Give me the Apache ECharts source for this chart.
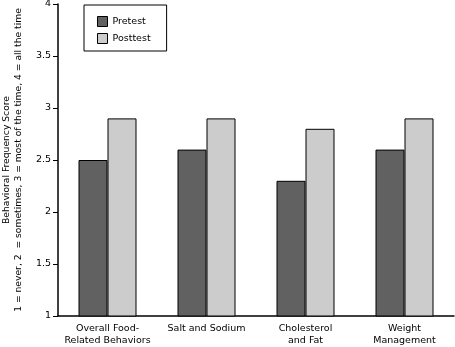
<!DOCTYPE html>
<html><head><meta charset="utf-8">
<script src="https://cdn.jsdelivr.net/npm/echarts@6/dist/echarts.min.js"></script>
<style>html,body{margin:0;padding:0;background:#fff}#c{width:455px;height:347px}</style>
</head><body><div id="c"></div>
<script>
const categories = ["Overall Food-\nRelated Behaviors", "Salt and Sodium", "Cholesterol\nand Fat", "Weight\nManagement"];
const pretest = [2.5, 2.6, 2.3, 2.6];
const posttest = [2.9, 2.9, 2.8, 2.9];
const seriesNames = ["Pretest", "Posttest"];
const yTitle = "Behavioral Frequency Score\n1 = never, 2  = sometimes, 3 = most of the time, 4 = all the time";
const FONT = "DejaVu Sans";
const chart = echarts.init(document.getElementById('c'), null, {renderer: 'canvas'});
chart.setOption({
  animation: false,
  textStyle: {fontFamily: FONT, color: '#000'},
  grid: {left: 58, right: 1, top: 4, bottom: 31, outerBoundsMode: 'none', containLabel: false},
  legend: {
    left: 84, top: 5, orient: 'vertical', icon: 'rect',
    borderColor: '#000', borderWidth: 1,
    padding: [11, 16, 7, 13],
    itemWidth: 10, itemHeight: 10, itemGap: 6,
    textStyle: {fontFamily: FONT, fontSize: 9.5, color: '#000'},
    itemStyle: {borderColor: '#000', borderWidth: 1},
    data: seriesNames
  },
  xAxis: {
    type: 'category', data: categories,
    axisLine: {lineStyle: {color: '#000', width: 1.5}},
    axisTick: {show: false},
    axisLabel: {fontFamily: FONT, fontSize: 9.5, color: '#000', margin: 7, lineHeight: 12, interval: 0}
  },
  yAxis: {
    type: 'value', min: 1, max: 4, interval: 0.5,
    name: yTitle, nameLocation: 'middle', nameRotate: 90, nameGap: 33,
    nameTextStyle: {fontFamily: FONT, fontSize: 9.2, color: '#000', lineHeight: 12},
    axisLine: {show: true, lineStyle: {color: '#000', width: 1.5}},
    axisTick: {show: true, length: 5, lineStyle: {color: '#000'}},
    axisLabel: {fontFamily: FONT, fontSize: 9.5, color: '#000', margin: 7},
    splitLine: {show: false}
  },
  series: [
    {name: seriesNames[0], type: 'bar', data: pretest, barWidth: 29, barGap: '0%',
     itemStyle: {color: '#616161', borderColor: '#000', borderWidth: 1}},
    {name: seriesNames[1], type: 'bar', data: posttest, barWidth: 29, barGap: '0%',
     itemStyle: {color: '#cccccc', borderColor: '#000', borderWidth: 1}}
  ]
});
</script></body></html>
